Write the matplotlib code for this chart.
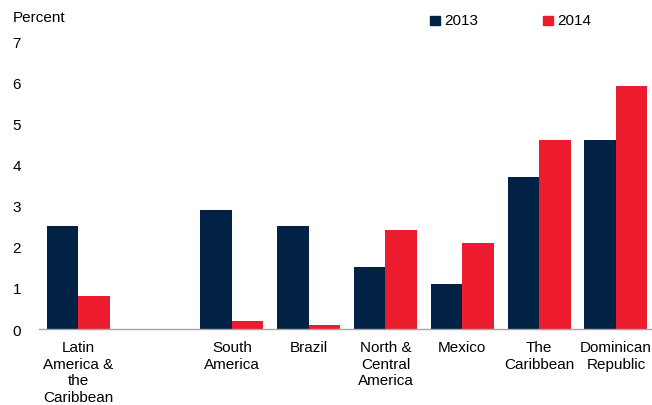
import numpy as np
import matplotlib
matplotlib.use('Agg')
import matplotlib.pyplot as plt
from matplotlib.patches import Rectangle

plt.rcParams['font.family'] = ['Liberation Sans', 'DejaVu Sans']

# данные
categories = ["Latin\nAmerica &\nthe\nCaribbean", "", "South\nAmerica", "Brazil",
              "North &\nCentral\nAmerica", "Mexico", "The\nCaribbean", "Dominican\nRepublic"]
vals_2013 = [2.5, np.nan, 2.9, 2.5, 1.5, 1.1, 3.7, 4.6]
vals_2014 = [0.8, np.nan, 0.2, 0.1, 2.4, 2.1, 4.6, 5.9]
years = ["2013", "2014"]
colors = ["#012244", "#EC1C2E"]

fig = plt.figure(figsize=(6.52, 4.06), dpi=100)
ax = fig.add_axes([0.06, 0.187, 0.94, 0.709])

x = np.arange(len(categories))
w = 0.41
ax.bar(x - w / 2, vals_2013, width=w, color=colors[0])
ax.bar(x + w / 2, vals_2014, width=w, color=colors[1])

ax.set_xlim(-0.51, 7.47)
ax.set_ylim(0, 7)
ax.set_yticks(range(0, 8))
ax.set_xticks(x)
ax.set_xticklabels(categories, fontsize=11, linespacing=1.24)
ax.tick_params(axis='both', length=0, labelsize=11)
ax.tick_params(axis='y', pad=19)
for lbl in ax.get_yticklabels():
    lbl.set_horizontalalignment('left')
ax.tick_params(axis='x', pad=8)

for s in ['top', 'right', 'left']:
    ax.spines[s].set_visible(False)
ax.spines['bottom'].set_color('#A6A6A6')
ax.spines['bottom'].set_linewidth(1.0)

fig.text(13 / 652, 1 - 18 / 406, "Percent", fontsize=11, va='center', ha='left')

# легенда вручную
for i, (yr, c) in enumerate(zip(years, colors)):
    x0 = (430 + i * 113) / 652
    fig.patches.append(Rectangle((x0, 1 - 26 / 406), 10 / 652, 9 / 406,
                                 transform=fig.transFigure, color=c, figure=fig))
    fig.text(x0 + 14 / 652, 1 - 21 / 406, yr, fontsize=11, va='center', ha='left')

fig.savefig("out.png", dpi=100)
